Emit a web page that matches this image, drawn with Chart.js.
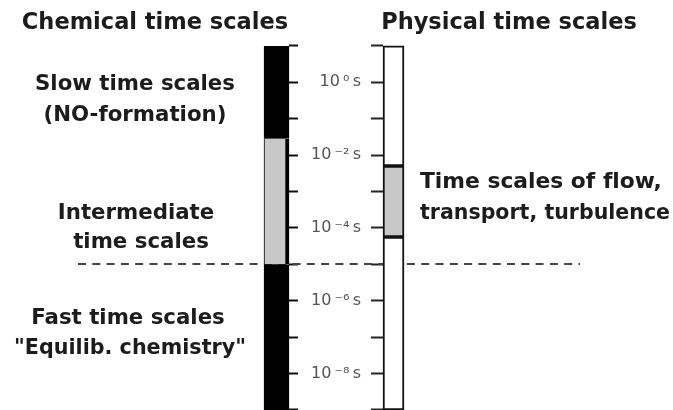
<!DOCTYPE html>
<html><head><meta charset="utf-8">
<script src="https://cdn.jsdelivr.net/npm/chart.js@4.4.1/dist/chart.umd.min.js"></script>
<style>html,body{margin:0;padding:0;background:#fff;}#wrap{width:673px;height:410px;position:relative;}</style>
</head><body><div id="wrap"><canvas id="c" width="673" height="410"></canvas></div>
<script>
// ---- data ----
const columns = ['Chemical time scales', 'Physical time scales'];
const chemicalBounds = [1, -1.55, -5, -9];          // log10(t/s) segment edges
const chemicalSegments = [['Slow time scales', '(NO-formation)'], ['Intermediate', 'time scales'], ['Fast time scales', '"Equilib. chemistry"']];
const physicalBounds = [1, -2.3, -4.25, -9];
const physicalSegments = [[], ['Time scales of f\u200Clow,', 'transport, turbulence'], []];
const tickExponents = [1, 0, -1, -2, -3, -4, -5, -6, -7, -8, -9];
const labeledExponents = [0, -2, -4, -6, -8];
const separatorExponent = [-5];

// ---- layout / style ----
const PX_PER_COL = 117, COL0_PX = 276.5, AREA_L = 78, AREA_R = 580;
const XMIN = (AREA_L - COL0_PX) / PX_PER_COL, XMAX = (AREA_R - COL0_PX) / PX_PER_COL;
const PAD_T = 24, PAD_B = 24, ZERO_PX = 82.3, PX_PER_DEC = 36.4;
const YMAX = (ZERO_PX - PAD_T) / PX_PER_DEC, YMIN = -(410 - PAD_B - ZERO_PX) / PX_PER_DEC;
const colX = (px) => (px - COL0_PX) / PX_PER_COL;
const chemColors = ['#000000', '#c8c8c8', '#000000'];
const physColors = ['#ffffff', '#c8c8c8', '#ffffff'];
const titlePos = [[155, 23], [509, 23]];
const chemTextPos = [[[135, 84], [135, 115]], [[136, 213], [141, 242]], [[128, 318], [130, 348]]];
const physTextPos = [[], [[420, 182], [420, 213]], []];
const MAXW = 250;

const SUP = {'0':'⁰','1':'¹','2':'²','3':'³','4':'⁴','5':'⁵','6':'⁶','7':'⁷','8':'⁸','9':'⁹','-':'⁻'};
const sup = (n) => String(n).split('').map(c => SUP[c]).join('');

function segments(bounds, col) {
  return bounds.slice(0, -1).map((b, i) => ({x: col, y: [bounds[i + 1], b]}));
}
const setTicks = (scale) => { scale.ticks = tickExponents.map(v => ({value: v})); };
const setLabelTicks = (scale) => { scale.ticks = labeledExponents.map(v => ({value: v})); };

const textPlugin = {
  id: 'texts',
  afterDraw(chart) {
    const ctx = chart.ctx;
    ctx.save();
    ctx.fillStyle = '#1c1c1c';
    ctx.textBaseline = 'middle';
    ctx.textAlign = 'center';
    ctx.font = 'bold 22.5px "DejaVu Sans"';
    columns.forEach((t, i) => ctx.fillText(t, titlePos[i][0], titlePos[i][1]));
    ctx.font = 'bold 21.3px "DejaVu Sans"';
    chemicalSegments.forEach((lines, i) => lines.forEach((l, j) => ctx.fillText(l, chemTextPos[i][j][0], chemTextPos[i][j][1], 232)));
    ctx.textAlign = 'left';
    ctx.font = 'bold 21.8px "DejaVu Sans"';
    physicalSegments.forEach((lines, i) => lines.forEach((l, j) => ctx.fillText(l, physTextPos[i][j][0], physTextPos[i][j][1], MAXW)));
    ctx.restore();
  }
};

new Chart(document.getElementById('c'), {
  type: 'bar',
  data: {
    datasets: [
      {label: columns[0], data: segments(chemicalBounds, 0), backgroundColor: chemColors, borderColor: '#000',
       borderWidth: {left: 1, right: 4, top: 0, bottom: 0}, barThickness: 25, grouped: false, borderSkipped: false, clip: false},
      {label: columns[1], data: segments(physicalBounds, 1), backgroundColor: physColors, borderColor: '#111',
       borderWidth: 2, barThickness: 21, grouped: false, borderSkipped: false, clip: false}
    ]
  },
  options: {
    responsive: false, animation: false, events: [],
    layout: {padding: {left: AREA_L, right: 673 - AREA_R, top: PAD_T, bottom: PAD_B}},
    plugins: {legend: {display: false}, title: {display: false}, tooltip: {enabled: false}},
    scales: {
      x: {type: 'linear', min: XMIN, max: XMAX, display: false, offset: false},
      y: {
        type: 'linear', min: YMIN, max: YMAX, position: {x: colX(383)},
        afterBuildTicks: setTicks,
        ticks: {display: false, autoSkip: false},
        grid: {drawOnChartArea: false, drawTicks: true, tickLength: 12, tickColor: '#222', tickWidth: 2, color: 'rgba(0,0,0,0)'},
        border: {display: false}
      },
      yLabels: {
        type: 'linear', min: YMIN, max: YMAX, position: {x: colX(361)},
        afterBuildTicks: setLabelTicks,
        ticks: {autoSkip: false, color: '#555', font: {family: 'DejaVu Sans', size: 16},
          callback: (v) => '10\u2009' + sup(v) + '\u2009s'},
        grid: {drawOnChartArea: false, drawTicks: false, color: 'rgba(0,0,0,0)'},
        border: {display: false}
      },
      yChem: {
        type: 'linear', min: YMIN, max: YMAX, position: {x: colX(298)},
        afterBuildTicks: setTicks,
        ticks: {display: false, autoSkip: false},
        grid: {drawOnChartArea: false, drawTicks: true, tickLength: 9, tickColor: '#111', tickWidth: 2, color: 'rgba(0,0,0,0)'},
        border: {display: false}
      },
      ySep: {
        type: 'linear', min: YMIN, max: YMAX, position: {x: XMIN}, z: 1,
        afterBuildTicks: (s) => { s.ticks = separatorExponent.map(v => ({value: v})); },
        ticks: {display: false},
        grid: {drawOnChartArea: true, drawTicks: false, lineWidth: 2, color: '#444'},
        border: {display: false, dash: [8, 6.3]}
      }
    }
  },
  plugins: [textPlugin]
});
</script>
</body></html>
